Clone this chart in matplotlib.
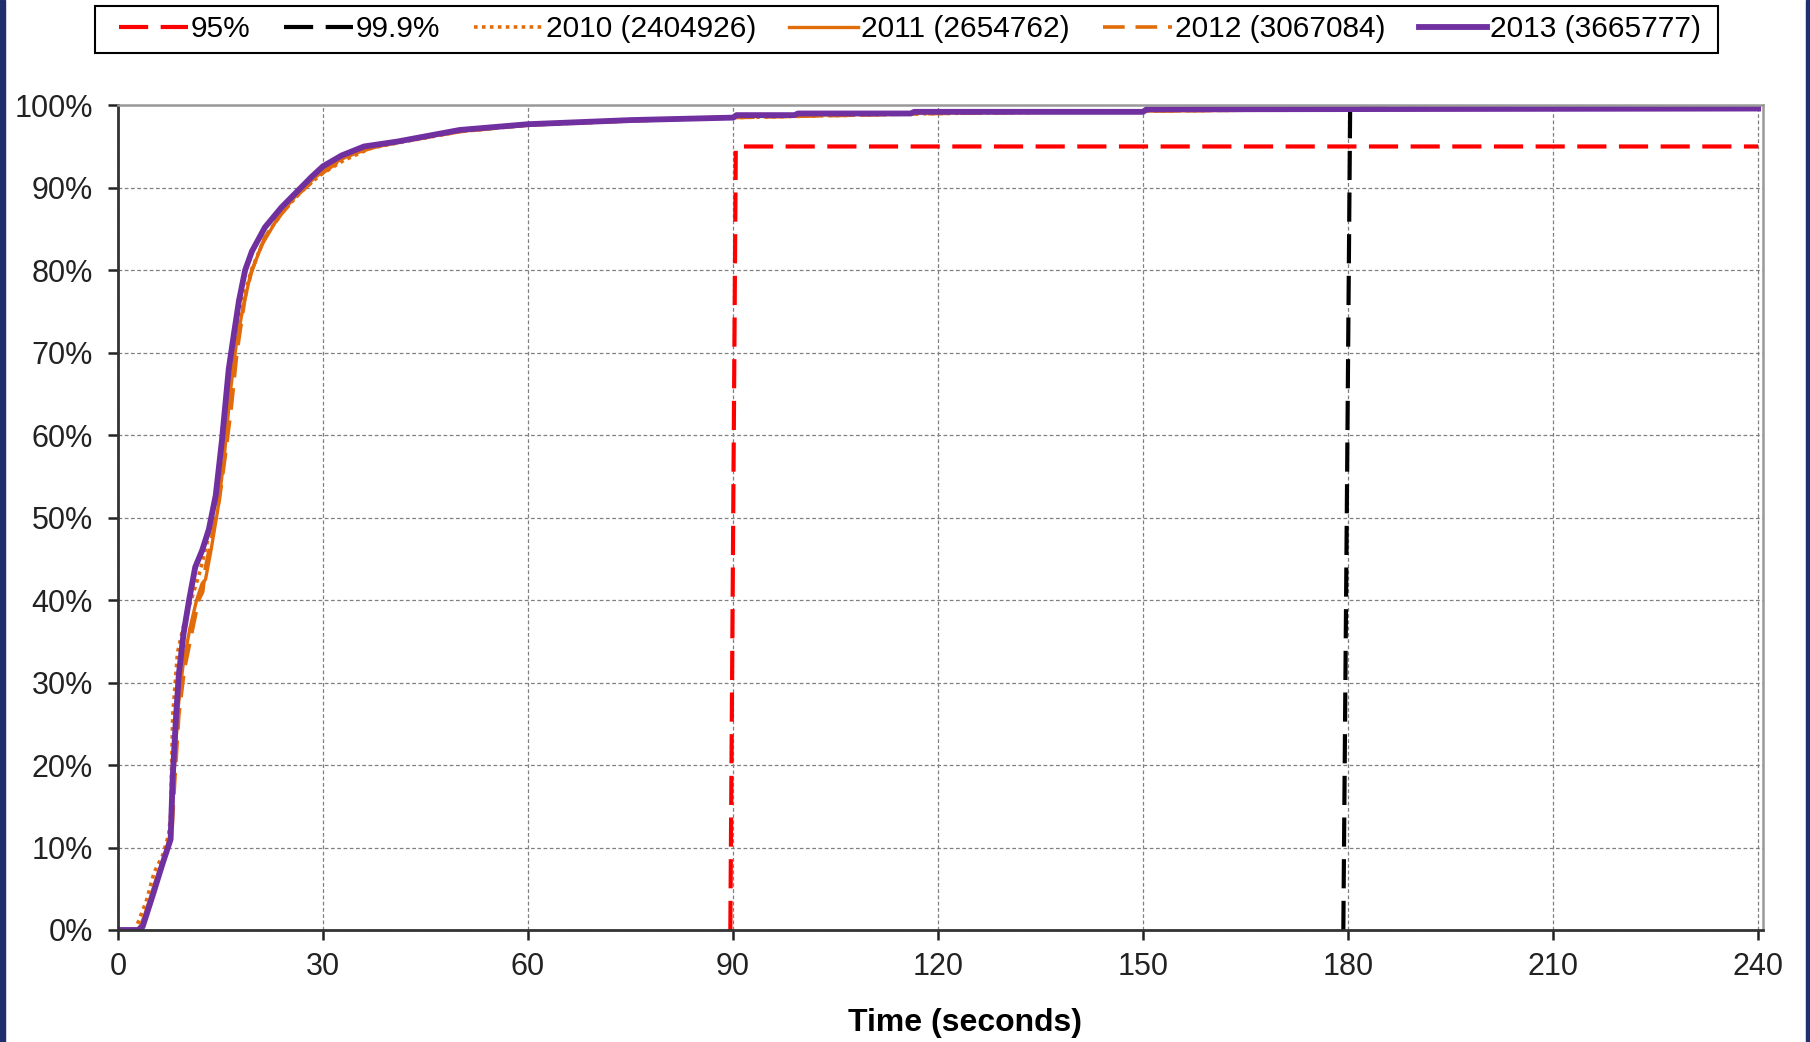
import matplotlib
matplotlib.use("Agg")
import matplotlib.pyplot as plt
from matplotlib.patches import Rectangle
from matplotlib.ticker import PercentFormatter, MultipleLocator

plt.rcParams["font.family"] = ["Liberation Sans", "DejaVu Sans"]

# cumulative share of requests (%) against elapsed time (s)
t_2010 = [0, 2.5, 4.1, 5.3, 6.5, 7.4, 7.7, 8.0, 8.7, 9.9, 10.9, 12.0, 13.2, 14.3,
          15.3, 16.3, 17.2, 18.2, 19.5, 21.5, 24.0, 26.8, 29.5, 33, 37, 42, 50,
          60, 75, 90, 120, 150, 180, 240]
p_2010 = [0, 0, 3.4, 7, 9, 11.5, 14, 26, 33.6, 38, 40.5, 43.5, 47.5, 52.5,
          58.5, 66, 71, 76, 80, 84, 87, 89.5, 91.5, 93.3, 94.8, 95.6, 96.8,
          97.6, 98.1, 98.5, 99.0, 99.3, 99.5, 99.6]

t_2011 = [0, 3.0, 4.0, 5.5, 6.8, 7.8, 8.2, 8.8, 9.5, 10.5, 11.5, 12.3, 12.8,
          13.6, 14.6, 15.5, 16.4, 17.3, 18.3, 19.4, 21.0, 23.5, 26.0, 28.5, 31,
          34, 38, 45, 55, 70, 90, 120, 150, 180, 240]
p_2011 = [0, 0, 2, 6, 9, 12, 19, 27, 32, 36.5, 40, 42, 42.5, 46, 51, 57, 65,
          71, 75.5, 79.5, 83, 86.5, 89, 91, 92.7, 94, 95, 96.3, 97.3, 98.1,
          98.6, 99.1, 99.3, 99.5, 99.6]

t_2012 = [0, 3.2, 4.2, 5.6, 7.0, 7.9, 8.3, 8.9, 9.7, 10.8, 11.8, 12.4, 12.8,
          13.7, 14.8, 15.7, 16.6, 17.4, 18.6, 19.6, 21.5, 23.9, 26.4, 29.3,
          32.7, 36, 41, 50, 60, 75, 90, 120, 150, 180, 240]
p_2012 = [0, 0, 2.5, 6, 9.5, 12, 18, 26, 31.5, 36, 40, 41, 44, 47.5, 52, 57.5,
          63.5, 70, 76.7, 80, 84, 86.8, 89.2, 91.4, 93.4, 94.7, 95.5, 96.8,
          97.6, 98.1, 98.5, 99.0, 99.3, 99.5, 99.6]

t_2013 = [0, 2.9, 3.6, 5, 6.5, 7.7, 8.0, 8.5, 8.9, 9.6, 10.4, 11.3, 12.3, 13.3,
          14.3, 15.2, 16.2, 17.0, 17.7, 18.6, 19.6, 21.5, 23.9, 26.4, 28.3, 30,
          32.7, 36, 40.9, 50, 60, 75, 90, 90.5, 99, 99.5, 116, 116.5, 150,
          150.5, 240]
p_2013 = [0, 0, 0.4, 4, 8, 11, 18.5, 26, 31, 36, 40, 44, 46, 48.6, 52.7, 59.3,
          68, 72.5, 76.3, 80, 82.3, 85.2, 87.6, 89.7, 91.3, 92.6, 93.9, 95,
          95.6, 97, 97.7, 98.2, 98.5, 98.8, 98.8, 99.0, 99.0, 99.2, 99.2,
          99.5, 99.6]

# percentile markers
t_95 = [89.6, 90.4, 240]
p_95 = [0, 95, 95]
t_999 = [179.3, 180.3, 240]
p_999 = [0, 99.9, 99.9]

labels = ["95%", "99.9%", "2010 (2404926)", "2011 (2654762)",
          "2012 (3067084)", "2013 (3665777)"]

ORANGE = "#e36c0a"
PURPLE = "#7030a0"
W, H = 1810, 1042

fig = plt.figure(figsize=(W / 100, H / 100), dpi=100)
ax = fig.add_axes([0.0652, 0.1075, 0.9088, 0.7915])

ax.plot(t_95, p_95, color="red", lw=3, dashes=(7, 3), label=labels[0])
ax.plot(t_999, p_999, color="black", lw=3, dashes=(7, 3), label=labels[1])
ax.plot(t_2010, p_2010, color=ORANGE, lw=2.6, dashes=(1, 1.2), label=labels[2])
ax.plot(t_2011, p_2011, color=ORANGE, lw=2.4, label=labels[3])
ax.plot(t_2012, p_2012, color=ORANGE, lw=2.6, dashes=(6, 3), label=labels[4])
ax.plot(t_2013, p_2013, color=PURPLE, lw=4.2, label=labels[5])

ax.set_xlim(0, 240.7)
ax.set_ylim(0, 100)
ax.xaxis.set_major_locator(MultipleLocator(30))
ax.yaxis.set_major_locator(MultipleLocator(10))
ax.yaxis.set_major_formatter(PercentFormatter(100, decimals=0))
ax.grid(True, color="#808080", ls=(0, (3, 2)), lw=0.9)
ax.tick_params(axis="both", direction="out", length=7, width=1.8,
               labelsize=22, colors="#222222")
ax.tick_params(axis="y", pad=11)
ax.tick_params(axis="x", pad=9)
for s in ("left", "bottom"):
    ax.spines[s].set_color("#333333")
    ax.spines[s].set_linewidth(2)
for s in ("top", "right"):
    ax.spines[s].set_color("#999999")
    ax.spines[s].set_linewidth(1.8)

ax.set_xlabel("Time (seconds)", fontsize=23, fontweight="bold")
ax.xaxis.set_label_coords(0.515, -0.095)

leg = fig.legend(loc="center", bbox_to_anchor=(0.503, 0.9717), ncol=6,
                 fontsize=21.5, frameon=False, handlelength=2.3,
                 handletextpad=0.1, columnspacing=1.12, borderaxespad=0)

# legend box drawn separately: wider side padding than Legend allows
fig.patches.append(Rectangle((95 / W, 1 - 53 / H), (1718 - 95) / W, 47 / H,
                             transform=fig.transFigure, facecolor="none",
                             edgecolor="black", lw=1.5, zorder=5))

# navy side bands of the original slide
fig.patches.append(Rectangle((0, 0), 5 / W, 1, transform=fig.transFigure,
                             color="#1f2f6b", zorder=10))
fig.patches.append(Rectangle((1 - 4 / W, 0), 4 / W, 1,
                             transform=fig.transFigure, color="#1f2f6b",
                             zorder=10))

fig.savefig("out.png", dpi=100)
